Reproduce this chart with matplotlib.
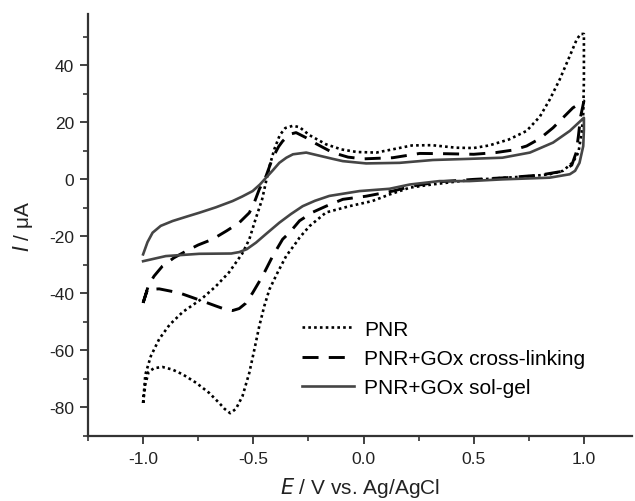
import matplotlib
matplotlib.use('Agg')
import matplotlib.pyplot as plt
from matplotlib.ticker import MultipleLocator, FormatStrFormatter

plt.rcParams['font.family'] = ['Liberation Sans', 'DejaVu Sans']
plt.rcParams['axes.unicode_minus'] = False

# cyclic voltammograms, potential in V, current in uA (one closed scan each)
pnr_E = [-1.0, -0.99, -0.965, -0.927, -0.88, -0.82, -0.736, -0.67, -0.61, -0.55, -0.518,
         -0.49, -0.46, -0.44, -0.425, -0.405, -0.38, -0.355, -0.32, -0.29, -0.245, -0.17,
         -0.1, -0.03, 0.058, 0.13, 0.22, 0.31, 0.42, 0.5, 0.57, 0.66, 0.74, 0.8, 0.845,
         0.89, 0.936, 0.967, 0.985, 1.0, 1.0, 0.997, 0.99, 0.975, 0.95, 0.905, 0.845, 0.77,
         0.65, 0.53, 0.44, 0.31, 0.21, 0.118, 0.04, -0.064, -0.17, -0.245, -0.29, -0.306,
         -0.351, -0.39, -0.427, -0.45, -0.473, -0.495, -0.518, -0.549, -0.579, -0.605,
         -0.63, -0.655, -0.7, -0.76, -0.82, -0.867, -0.912, -0.95, -0.975, -0.99, -1.0]
pnr_I = [-78.4, -68.5, -62, -56, -51, -46.5, -42, -37.5, -32.6, -26, -21,
         -14, -7, 0, 5, 10.5, 15.5, 18, 18.8, 18.3, 15.5, 12.3,
         10.5, 9.6, 9.4, 10.5, 11.9, 12, 11.1, 11, 11.9, 14, 17, 22, 28,
         35, 43.3, 49, 51, 51, 35, 23, 16.5, 9.4, 6, 3, 1.8, 1.2,
         0.6, 0, -0.6, -1.8, -2.9, -5.3, -7.6, -9.4, -11.6, -16.4, -20.4, -22.2,
         -26.9, -32.7, -38.6, -44.4, -51.5, -59.6, -67.8, -76, -80.5, -82,
         -80.5, -78.4, -74.9, -71.3, -68.4, -66.7, -65.8, -66.2, -67.5, -72, -78.4]

xl_E = [-1.0, -0.975, -0.95, -0.912, -0.86, -0.806, -0.75, -0.685, -0.62, -0.564, -0.518,
        -0.495, -0.473, -0.442, -0.412, -0.385, -0.367, -0.336, -0.306, -0.26, -0.215,
        -0.14, -0.07, 0.0, 0.133, 0.255, 0.376, 0.5, 0.6, 0.68, 0.74, 0.8, 0.86, 0.91,
        0.95, 1.0, 0.985, 0.975, 0.965, 0.945, 0.9, 0.8, 0.65, 0.5, 0.35, 0.224, 0.133,
        0.012, -0.094, -0.17, -0.23, -0.29, -0.336, -0.367, -0.412, -0.458, -0.503,
        -0.535, -0.564, -0.594, -0.63, -0.67, -0.73, -0.836, -0.927, -0.98, -1.0]
xl_I = [-43.3, -37, -33.9, -30.4, -27.5, -25.2, -23, -21, -18, -15.2, -11.7,
        -8, -3.5, 1.2, 7.6, 11.5, 13.4, 15.8, 16.4, 14.6, 12.5,
        9.4, 7.8, 7.2, 7.6, 9.1, 9, 8.8, 9.4, 10.3, 11.7, 14.3, 18.1, 22,
        25.1, 27.5, 22, 15.2, 9.4, 5, 2.8, 1.5, 0.6, 0, -0.8, -2.3, -4.1,
        -5.9, -7, -9.4, -11.5, -14.5, -18.7, -21, -26.9, -33.9, -39.8,
        -43.5, -45.3, -46, -45.5, -44.4, -42.7, -39.8, -38.4, -38.6, -43.3]

sg_E = [-1.0, -0.98, -0.957, -0.92, -0.866, -0.8, -0.745, -0.67, -0.594, -0.55, -0.503,
        -0.47, -0.442, -0.41, -0.382, -0.35, -0.32, -0.26, -0.2, -0.14, -0.094, 0.012,
        0.164, 0.315, 0.48, 0.63, 0.755, 0.86, 0.936, 1.0, 1.0, 0.997, 0.98, 0.96, 0.936,
        0.845, 0.63, 0.48, 0.345, 0.21, 0.118, -0.018, -0.155, -0.22, -0.276, -0.33,
        -0.382, -0.44, -0.488, -0.53, -0.564, -0.6, -0.745, -0.897, -1.0]
sg_I = [-26.3, -22, -18.7, -16.3, -14.6, -13, -11.7, -9.8, -7.6, -6, -4.1,
        -1.8, 0.6, 3.3, 5.8, 7.6, 8.8, 9.4, 8.3, 7.2, 6.4, 5.6,
        5.8, 6.8, 7.2, 7.6, 9.4, 12.9, 17, 21.6, 17.5, 11.7, 5.8, 3, 1.8,
        0.6, 0, -0.6, -0.6, -1.8, -3.3, -4.1, -5.8, -7.5, -9.4, -12.2,
        -15.2, -19, -22.2, -24.5, -25.5, -26, -26.1, -26.9, -28.7]

labels = ['PNR', 'PNR+GOx cross-linking', 'PNR+GOx sol-gel']

fig = plt.figure(figsize=(6.35, 5.02), dpi=100)
ax = fig.add_axes([88 / 635, 65 / 502, 544.4 / 635, 422 / 502])

ax.plot(pnr_E, pnr_I, color='black', lw=1.9, linestyle=(0, (1, 1.2)), label=labels[0])
ax.plot(xl_E, xl_I, color='black', lw=2.1, linestyle=(0, (5.5, 3.5)), label=labels[1])
ax.plot(sg_E, sg_I, color='#454545', lw=1.9, linestyle='-', label=labels[2])

ax.set_xlim(-1.25, 1.22)
ax.set_ylim(-90, 58)
ax.xaxis.set_major_locator(MultipleLocator(0.5))
ax.xaxis.set_minor_locator(MultipleLocator(0.25))
ax.yaxis.set_major_locator(MultipleLocator(20))
ax.yaxis.set_minor_locator(MultipleLocator(10))
ax.xaxis.set_major_formatter(FormatStrFormatter('%.1f'))

for side in ['top', 'right']:
    ax.spines[side].set_visible(False)
for side in ['left', 'bottom']:
    ax.spines[side].set_linewidth(1.6)
    ax.spines[side].set_color('#333333')
ax.tick_params(which='major', length=6, width=1.3, color='#333333', labelsize=12.5,
               labelcolor='#222222')
ax.tick_params(axis='y', which='major', pad=4)
ax.tick_params(axis='x', which='major', pad=5)
ax.tick_params(which='minor', length=3.5, width=1.2, color='#333333')

ax.set_xlabel('$\\it{E}$ / V vs. Ag/AgCl', fontsize=15, color='#222222', labelpad=6)
ax.set_ylabel('$\\it{I}$ / μA', fontsize=15, color='#222222', labelpad=10)

ax.legend(loc='upper left', bbox_to_anchor=(0.393, 0.276), frameon=False, fontsize=15,
          handlelength=2.5, handletextpad=0.48, labelspacing=0.5, borderpad=0,
          borderaxespad=0)

fig.savefig('out.png', dpi=100)
